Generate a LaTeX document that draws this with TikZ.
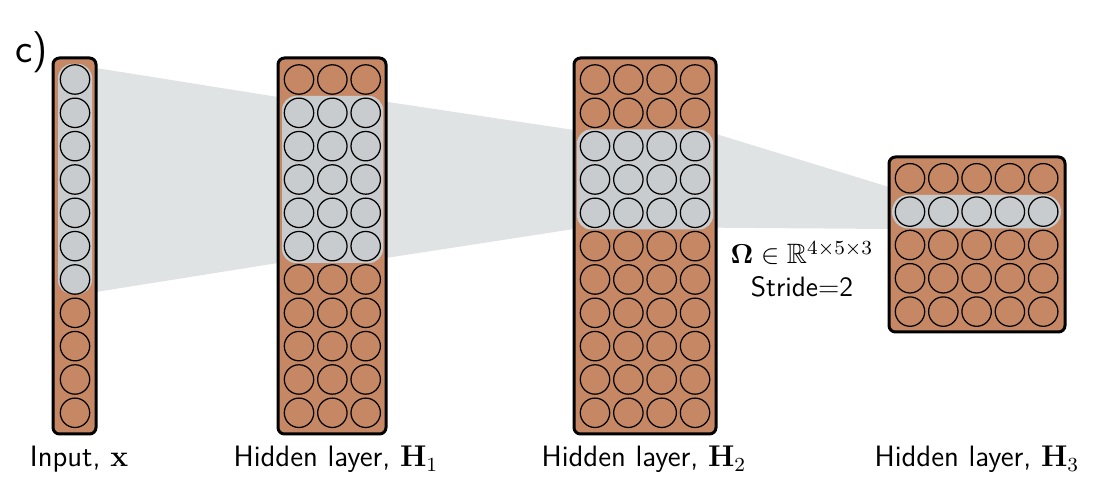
\documentclass[tikz,border=0pt]{standalone}
\usepackage{amsmath,amssymb,bm}
\definecolor{copper}{RGB}{198,136,100}
\definecolor{cellgray}{RGB}{200,204,207}
\definecolor{fungray}{RGB}{224,227,228}
\begin{document}
\begin{tikzpicture}[x=0.4pt,y=-0.4pt,
  layerbox/.style={draw=black, line width=1.2pt, fill=copper, rounded corners=2.6pt},
  band/.style={fill=cellgray, rounded corners=5.6pt},
  cell/.style={circle, draw=black, line width=0.5pt, minimum size=11.76pt, inner sep=0pt},
  funnel/.style={fill=fungray},
  lbl/.style={font=\fontsize{11.8}{14}\selectfont\sffamily, anchor=base},
  note/.style={font=\fontsize{11.2}{13}\selectfont\sffamily, anchor=base}]
\useasboundingbox (0,0) rectangle (1106,484);

% receptive-field funnels
\fill[funnel] (96,68) -- (278,97) -- (278,263) -- (96,292) -- cycle;
\fill[funnel] (386,101.7) -- (574,130) -- (574,229) -- (386,258) -- cycle;
\fill[funnel] (716,134) -- (889,187) -- (889,229) -- (716,227.7) -- cycle;

% layer boxes
\draw[layerbox] (53,58) rectangle (96,434);
\draw[layerbox] (278,58) rectangle (386,434);
\draw[layerbox] (574,58) rectangle (716,434);
\draw[layerbox] (889,157) rectangle (1065,332);

% highlighted bands
\fill[band] (58,64) rectangle (92,294);
\fill[band] (282,96) rectangle (383,263);
\fill[band] (577,129.5) rectangle (713,229.5);
\fill[band, rounded corners=6.6pt] (892,195) rectangle (1061,228.5);

% cells
\foreach \k in {0,...,10}
  \node[cell] (x-\k) at (75,79.5+33.33*\k) {};
\foreach \j in {0,1,2}
  \foreach \k in {0,...,10}
    \node[cell] (ha-\j-\k) at (299+33.35*\j,79.5+33.33*\k) {};
\foreach \j in {0,...,3}
  \foreach \k in {0,...,10}
    \node[cell] (hb-\j-\k) at (595+33.35*\j,79.5+33.33*\k) {};
\foreach \j in {0,...,4}
  \foreach \k in {0,...,4}
    \node[cell] (hc-\j-\k) at (910+33.3*\j,178.3+33.33*\k) {};

% labels
\node[font=\fontsize{16.5}{19}\selectfont\sffamily, anchor=base west, inner sep=0pt] (tag) at (15,63) {c)};
\node[lbl] (lx) at (79,467) {Input, $\mathbf{x}$};
\node[lbl] (l1) at (336,467) {Hidden layer, $\mathbf{H}_1$};
\node[lbl] (l2) at (644,467) {Hidden layer, $\mathbf{H}_2$};
\node[lbl] (l3) at (977,467) {Hidden layer, $\mathbf{H}_3$};
\node[note] (om) at (802,264) {$\bm{\Omega}\in\mathbb{R}^{4\times5\times3}$};
\node[note] (st) at (802,297) {Stride=2};
\end{tikzpicture}
\end{document}
